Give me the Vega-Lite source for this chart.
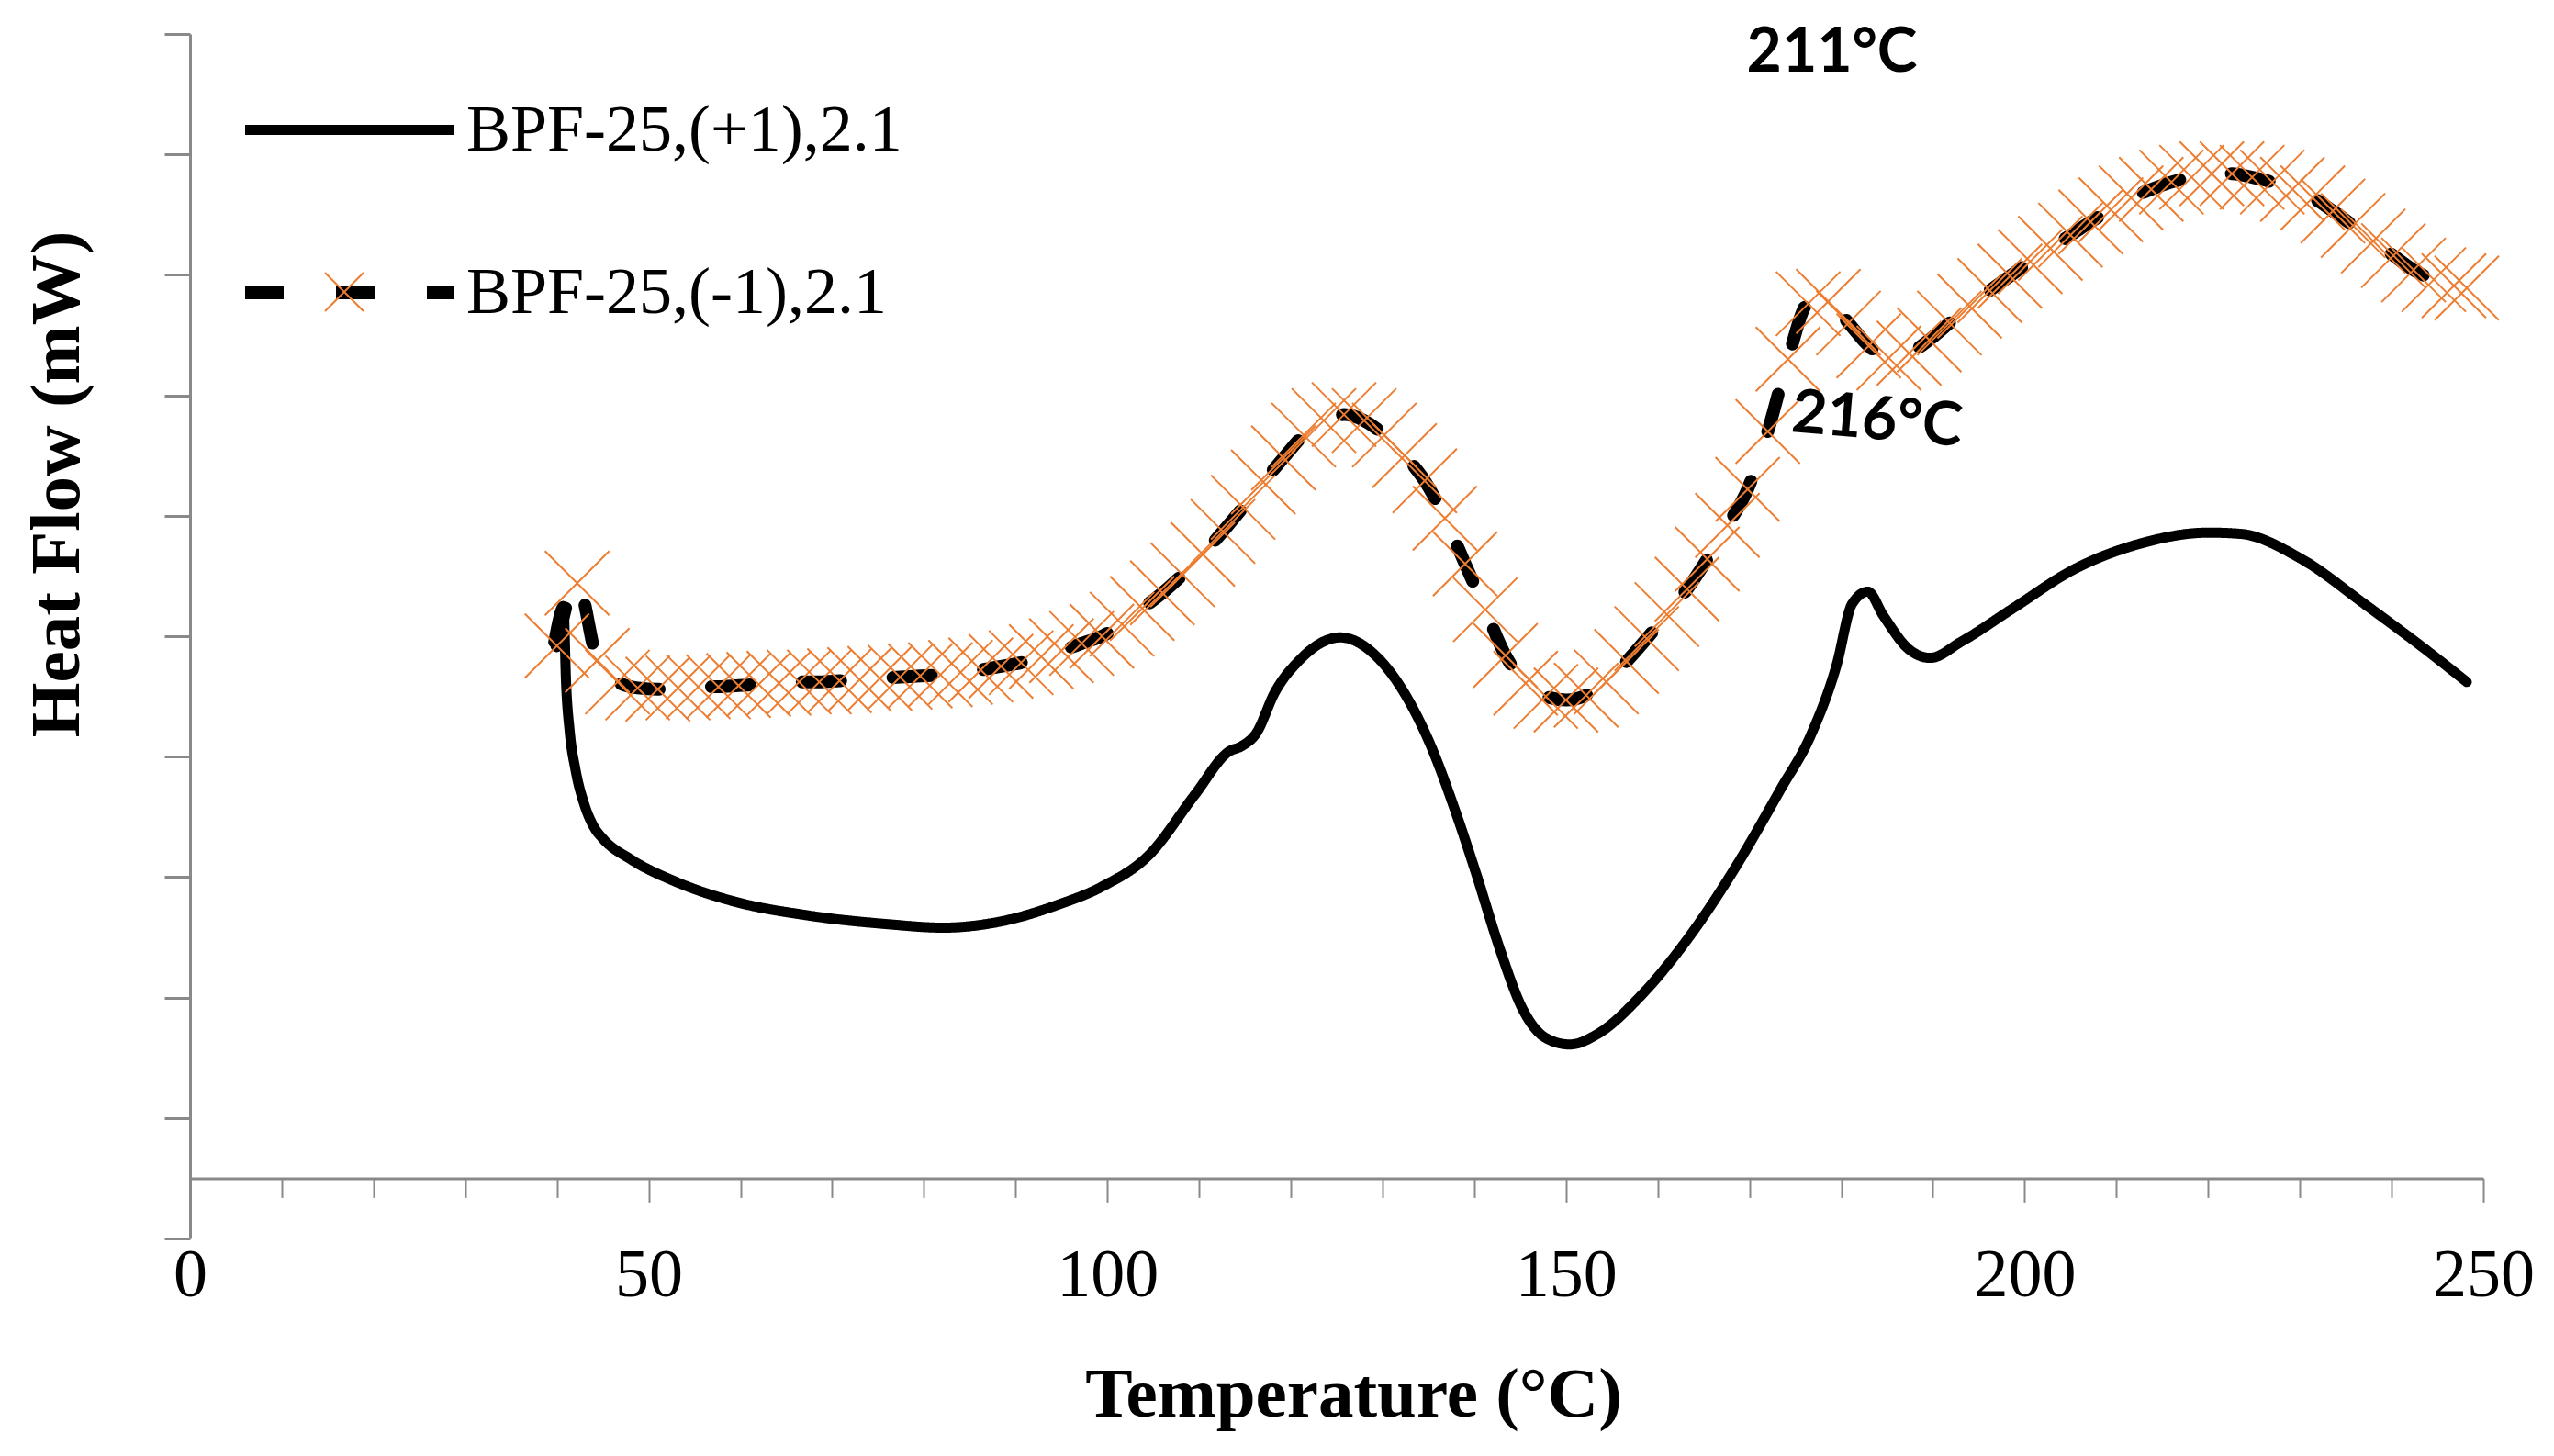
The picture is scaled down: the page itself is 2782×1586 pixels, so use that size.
{
  "$schema": "https://vega.github.io/schema/vega-lite/v6.json",
  "width": 2498,
  "height": 1312,
  "autosize": "none",
  "padding": {"left": 207, "top": 37, "right": 77, "bottom": 237},
  "background": "white",
  "config": {"view": {"stroke": null}},
  "datasets": {
    "curves": [
      {"series": "BPF-25,(+1),2.1", "temp": 39.6, "flow": 4.95},
      {"series": "BPF-25,(+1),2.1", "temp": 40.7, "flow": 5.25},
      {"series": "BPF-25,(+1),2.1", "temp": 41.0, "flow": 4.60},
      {"series": "BPF-25,(+1),2.1", "temp": 41.4, "flow": 4.20},
      {"series": "BPF-25,(+1),2.1", "temp": 42.0, "flow": 3.90},
      {"series": "BPF-25,(+1),2.1", "temp": 43.0, "flow": 3.60},
      {"series": "BPF-25,(+1),2.1", "temp": 44.0, "flow": 3.42},
      {"series": "BPF-25,(+1),2.1", "temp": 45.0, "flow": 3.32},
      {"series": "BPF-25,(+1),2.1", "temp": 48.0, "flow": 3.15},
      {"series": "BPF-25,(+1),2.1", "temp": 53.0, "flow": 2.96},
      {"series": "BPF-25,(+1),2.1", "temp": 59.2, "flow": 2.80},
      {"series": "BPF-25,(+1),2.1", "temp": 67.5, "flow": 2.68},
      {"series": "BPF-25,(+1),2.1", "temp": 75.9, "flow": 2.61},
      {"series": "BPF-25,(+1),2.1", "temp": 82.1, "flow": 2.58},
      {"series": "BPF-25,(+1),2.1", "temp": 88.3, "flow": 2.63},
      {"series": "BPF-25,(+1),2.1", "temp": 94.6, "flow": 2.77},
      {"series": "BPF-25,(+1),2.1", "temp": 99.4, "flow": 2.92},
      {"series": "BPF-25,(+1),2.1", "temp": 104.5, "flow": 3.18},
      {"series": "BPF-25,(+1),2.1", "temp": 109.6, "flow": 3.69},
      {"series": "BPF-25,(+1),2.1", "temp": 113.2, "flow": 4.04},
      {"series": "BPF-25,(+1),2.1", "temp": 114.7, "flow": 4.09},
      {"series": "BPF-25,(+1),2.1", "temp": 116.2, "flow": 4.19},
      {"series": "BPF-25,(+1),2.1", "temp": 118.3, "flow": 4.54},
      {"series": "BPF-25,(+1),2.1", "temp": 120.8, "flow": 4.79},
      {"series": "BPF-25,(+1),2.1", "temp": 125.4, "flow": 4.99},
      {"series": "BPF-25,(+1),2.1", "temp": 129.5, "flow": 4.82},
      {"series": "BPF-25,(+1),2.1", "temp": 132.6, "flow": 4.50},
      {"series": "BPF-25,(+1),2.1", "temp": 135.1, "flow": 4.12},
      {"series": "BPF-25,(+1),2.1", "temp": 138.2, "flow": 3.49},
      {"series": "BPF-25,(+1),2.1", "temp": 140.2, "flow": 3.03},
      {"series": "BPF-25,(+1),2.1", "temp": 142.8, "flow": 2.40},
      {"series": "BPF-25,(+1),2.1", "temp": 145.3, "flow": 1.90},
      {"series": "BPF-25,(+1),2.1", "temp": 147.9, "flow": 1.66},
      {"series": "BPF-25,(+1),2.1", "temp": 150.4, "flow": 1.61},
      {"series": "BPF-25,(+1),2.1", "temp": 153.5, "flow": 1.70},
      {"series": "BPF-25,(+1),2.1", "temp": 158.1, "flow": 2.01},
      {"series": "BPF-25,(+1),2.1", "temp": 163.2, "flow": 2.48},
      {"series": "BPF-25,(+1),2.1", "temp": 168.3, "flow": 3.06},
      {"series": "BPF-25,(+1),2.1", "temp": 173.4, "flow": 3.73},
      {"series": "BPF-25,(+1),2.1", "temp": 176.7, "flow": 4.18},
      {"series": "BPF-25,(+1),2.1", "temp": 179.5, "flow": 4.76},
      {"series": "BPF-25,(+1),2.1", "temp": 181.2, "flow": 5.27},
      {"series": "BPF-25,(+1),2.1", "temp": 182.9, "flow": 5.37},
      {"series": "BPF-25,(+1),2.1", "temp": 184.6, "flow": 5.17},
      {"series": "BPF-25,(+1),2.1", "temp": 187.4, "flow": 4.89},
      {"series": "BPF-25,(+1),2.1", "temp": 189.7, "flow": 4.82},
      {"series": "BPF-25,(+1),2.1", "temp": 193.0, "flow": 4.95},
      {"series": "BPF-25,(+1),2.1", "temp": 198.7, "flow": 5.23},
      {"series": "BPF-25,(+1),2.1", "temp": 205.5, "flow": 5.56},
      {"series": "BPF-25,(+1),2.1", "temp": 212.2, "flow": 5.76},
      {"series": "BPF-25,(+1),2.1", "temp": 220.1, "flow": 5.86},
      {"series": "BPF-25,(+1),2.1", "temp": 223.5, "flow": 5.85},
      {"series": "BPF-25,(+1),2.1", "temp": 230.2, "flow": 5.64},
      {"series": "BPF-25,(+1),2.1", "temp": 237.0, "flow": 5.27},
      {"series": "BPF-25,(+1),2.1", "temp": 243.7, "flow": 4.89},
      {"series": "BPF-25,(+1),2.1", "temp": 248.2, "flow": 4.62},
      {"series": "BPF-25,(-1),2.1", "temp": 40.0, "flow": 4.92},
      {"series": "BPF-25,(-1),2.1", "temp": 42.2, "flow": 5.44},
      {"series": "BPF-25,(-1),2.1", "temp": 44.4, "flow": 4.80},
      {"series": "BPF-25,(-1),2.1", "temp": 46.6, "flow": 4.62},
      {"series": "BPF-25,(-1),2.1", "temp": 48.8, "flow": 4.57},
      {"series": "BPF-25,(-1),2.1", "temp": 51.0, "flow": 4.56},
      {"series": "BPF-25,(-1),2.1", "temp": 53.2, "flow": 4.57},
      {"series": "BPF-25,(-1),2.1", "temp": 55.4, "flow": 4.58},
      {"series": "BPF-25,(-1),2.1", "temp": 57.6, "flow": 4.58},
      {"series": "BPF-25,(-1),2.1", "temp": 59.8, "flow": 4.59},
      {"series": "BPF-25,(-1),2.1", "temp": 62.0, "flow": 4.60},
      {"series": "BPF-25,(-1),2.1", "temp": 64.2, "flow": 4.61},
      {"series": "BPF-25,(-1),2.1", "temp": 66.4, "flow": 4.62},
      {"series": "BPF-25,(-1),2.1", "temp": 68.6, "flow": 4.62},
      {"series": "BPF-25,(-1),2.1", "temp": 70.8, "flow": 4.63},
      {"series": "BPF-25,(-1),2.1", "temp": 73.0, "flow": 4.64},
      {"series": "BPF-25,(-1),2.1", "temp": 75.2, "flow": 4.65},
      {"series": "BPF-25,(-1),2.1", "temp": 77.4, "flow": 4.66},
      {"series": "BPF-25,(-1),2.1", "temp": 79.6, "flow": 4.67},
      {"series": "BPF-25,(-1),2.1", "temp": 81.8, "flow": 4.68},
      {"series": "BPF-25,(-1),2.1", "temp": 84.0, "flow": 4.70},
      {"series": "BPF-25,(-1),2.1", "temp": 86.2, "flow": 4.72},
      {"series": "BPF-25,(-1),2.1", "temp": 88.4, "flow": 4.75},
      {"series": "BPF-25,(-1),2.1", "temp": 90.6, "flow": 4.78},
      {"series": "BPF-25,(-1),2.1", "temp": 92.8, "flow": 4.83},
      {"series": "BPF-25,(-1),2.1", "temp": 95.0, "flow": 4.88},
      {"series": "BPF-25,(-1),2.1", "temp": 97.2, "flow": 4.94},
      {"series": "BPF-25,(-1),2.1", "temp": 99.4, "flow": 5.00},
      {"series": "BPF-25,(-1),2.1", "temp": 101.6, "flow": 5.10},
      {"series": "BPF-25,(-1),2.1", "temp": 103.8, "flow": 5.23},
      {"series": "BPF-25,(-1),2.1", "temp": 106.0, "flow": 5.36},
      {"series": "BPF-25,(-1),2.1", "temp": 108.2, "flow": 5.51},
      {"series": "BPF-25,(-1),2.1", "temp": 110.4, "flow": 5.68},
      {"series": "BPF-25,(-1),2.1", "temp": 112.6, "flow": 5.87},
      {"series": "BPF-25,(-1),2.1", "temp": 114.8, "flow": 6.07},
      {"series": "BPF-25,(-1),2.1", "temp": 117.0, "flow": 6.28},
      {"series": "BPF-25,(-1),2.1", "temp": 119.2, "flow": 6.48},
      {"series": "BPF-25,(-1),2.1", "temp": 121.4, "flow": 6.67},
      {"series": "BPF-25,(-1),2.1", "temp": 123.6, "flow": 6.79},
      {"series": "BPF-25,(-1),2.1", "temp": 125.8, "flow": 6.84},
      {"series": "BPF-25,(-1),2.1", "temp": 128.0, "flow": 6.79},
      {"series": "BPF-25,(-1),2.1", "temp": 130.2, "flow": 6.67},
      {"series": "BPF-25,(-1),2.1", "temp": 132.4, "flow": 6.50},
      {"series": "BPF-25,(-1),2.1", "temp": 134.6, "flow": 6.29},
      {"series": "BPF-25,(-1),2.1", "temp": 136.8, "flow": 5.98},
      {"series": "BPF-25,(-1),2.1", "temp": 139.0, "flow": 5.60},
      {"series": "BPF-25,(-1),2.1", "temp": 141.2, "flow": 5.22},
      {"series": "BPF-25,(-1),2.1", "temp": 143.4, "flow": 4.84},
      {"series": "BPF-25,(-1),2.1", "temp": 145.6, "flow": 4.61},
      {"series": "BPF-25,(-1),2.1", "temp": 147.8, "flow": 4.50},
      {"series": "BPF-25,(-1),2.1", "temp": 150.0, "flow": 4.47},
      {"series": "BPF-25,(-1),2.1", "temp": 152.2, "flow": 4.51},
      {"series": "BPF-25,(-1),2.1", "temp": 154.4, "flow": 4.62},
      {"series": "BPF-25,(-1),2.1", "temp": 156.6, "flow": 4.79},
      {"series": "BPF-25,(-1),2.1", "temp": 158.8, "flow": 4.98},
      {"series": "BPF-25,(-1),2.1", "temp": 161.0, "flow": 5.18},
      {"series": "BPF-25,(-1),2.1", "temp": 163.2, "flow": 5.39},
      {"series": "BPF-25,(-1),2.1", "temp": 165.4, "flow": 5.64},
      {"series": "BPF-25,(-1),2.1", "temp": 167.6, "flow": 5.92},
      {"series": "BPF-25,(-1),2.1", "temp": 169.8, "flow": 6.22},
      {"series": "BPF-25,(-1),2.1", "temp": 172.0, "flow": 6.70},
      {"series": "BPF-25,(-1),2.1", "temp": 174.2, "flow": 7.30},
      {"series": "BPF-25,(-1),2.1", "temp": 176.4, "flow": 7.76},
      {"series": "BPF-25,(-1),2.1", "temp": 178.6, "flow": 7.78},
      {"series": "BPF-25,(-1),2.1", "temp": 180.8, "flow": 7.60},
      {"series": "BPF-25,(-1),2.1", "temp": 183.0, "flow": 7.41},
      {"series": "BPF-25,(-1),2.1", "temp": 185.2, "flow": 7.31},
      {"series": "BPF-25,(-1),2.1", "temp": 187.4, "flow": 7.35},
      {"series": "BPF-25,(-1),2.1", "temp": 189.6, "flow": 7.46},
      {"series": "BPF-25,(-1),2.1", "temp": 191.8, "flow": 7.60},
      {"series": "BPF-25,(-1),2.1", "temp": 194.0, "flow": 7.74},
      {"series": "BPF-25,(-1),2.1", "temp": 196.2, "flow": 7.87},
      {"series": "BPF-25,(-1),2.1", "temp": 198.4, "flow": 7.99},
      {"series": "BPF-25,(-1),2.1", "temp": 200.6, "flow": 8.11},
      {"series": "BPF-25,(-1),2.1", "temp": 202.8, "flow": 8.22},
      {"series": "BPF-25,(-1),2.1", "temp": 205.0, "flow": 8.33},
      {"series": "BPF-25,(-1),2.1", "temp": 207.2, "flow": 8.44},
      {"series": "BPF-25,(-1),2.1", "temp": 209.4, "flow": 8.54},
      {"series": "BPF-25,(-1),2.1", "temp": 211.6, "flow": 8.64},
      {"series": "BPF-25,(-1),2.1", "temp": 213.8, "flow": 8.71},
      {"series": "BPF-25,(-1),2.1", "temp": 216.0, "flow": 8.77},
      {"series": "BPF-25,(-1),2.1", "temp": 218.2, "flow": 8.81},
      {"series": "BPF-25,(-1),2.1", "temp": 220.4, "flow": 8.84},
      {"series": "BPF-25,(-1),2.1", "temp": 222.6, "flow": 8.84},
      {"series": "BPF-25,(-1),2.1", "temp": 224.8, "flow": 8.81},
      {"series": "BPF-25,(-1),2.1", "temp": 227.0, "flow": 8.77},
      {"series": "BPF-25,(-1),2.1", "temp": 229.2, "flow": 8.71},
      {"series": "BPF-25,(-1),2.1", "temp": 231.4, "flow": 8.64},
      {"series": "BPF-25,(-1),2.1", "temp": 233.6, "flow": 8.53},
      {"series": "BPF-25,(-1),2.1", "temp": 235.8, "flow": 8.41},
      {"series": "BPF-25,(-1),2.1", "temp": 238.0, "flow": 8.28},
      {"series": "BPF-25,(-1),2.1", "temp": 240.2, "flow": 8.16},
      {"series": "BPF-25,(-1),2.1", "temp": 242.4, "flow": 8.04},
      {"series": "BPF-25,(-1),2.1", "temp": 244.6, "flow": 7.96},
      {"series": "BPF-25,(-1),2.1", "temp": 246.8, "flow": 7.91},
      {"series": "BPF-25,(-1),2.1", "temp": 248.2, "flow": 7.89}
    ],
    "notes": [
      {"label": "211°C", "temp": 179.0, "flow": 9.84},
      {"label": "216°C", "temp": 183.9, "flow": 6.79}
    ]
  },
  "layer": [
    {
      "data": {"name": "curves"},
      "mark": {"type": "line", "color": "black", "strokeCap": "round", "strokeJoin": "round", "interpolate": "monotone"},
      "encoding": {
        "x": {
          "field": "temp", "type": "quantitative",
          "scale": {"domain": [0, 250], "nice": false, "zero": false},
          "axis": {
            "orient": "bottom",
            "values": [0, 50, 100, 150, 200, 250],
            "offset": -65.6,
            "tickSize": 26, "tickWidth": 2, "tickColor": "#898989",
            "domainColor": "#898989", "domainWidth": 3,
            "labelFont": "Liberation Serif", "labelFontSize": 74, "labelColor": "black",
            "labelPadding": 44, "labelFlush": false, "labelOverlap": false,
            "title": "Temperature (°C)",
            "titleFont": "Liberation Serif", "titleFontSize": 77, "titleFontWeight": "bold", "titleColor": "black",
            "titleX": 1267, "titleY": 259, "titleBaseline": "alphabetic", "titleAlign": "center",
            "grid": false
          }
        },
        "y": {
          "field": "flow", "type": "quantitative",
          "scale": {"domain": [0, 10], "nice": false, "zero": false},
          "axis": {
            "orient": "left",
            "values": [0, 1, 2, 3, 4, 5, 6, 7, 8, 9, 10],
            "tickSize": 28, "tickWidth": 3, "tickColor": "#898989",
            "domainColor": "#898989", "domainWidth": 3,
            "labels": false,
            "title": "Heat Flow (mW)",
            "titleFont": "Liberation Serif", "titleFontSize": 77, "titleFontWeight": "bold", "titleColor": "black",
            "titleX": -145, "titleY": 490, "titleAngle": -90, "titleAlign": "center", "titleBaseline": "middle",
            "grid": false
          }
        },
        "strokeDash": {
          "field": "series", "type": "nominal",
          "scale": {"domain": ["BPF-25,(+1),2.1", "BPF-25,(-1),2.1"], "range": [[1, 0], [42, 57]]},
          "legend": {
            "orient": "none", "legendX": 53, "legendY": -14.5,
            "title": null, "padding": 0,
            "symbolType": "stroke", "symbolSize": 51529, "symbolStrokeWidth": 12, "symbolStrokeColor": "black",
            "labelFont": "Liberation Serif", "labelFontSize": 72, "labelColor": "black",
            "labelOffset": 7, "labelLimit": 0, "labelBaseline": "middle",
            "rowPadding": 21
          }
        },
        "strokeWidth": {
          "field": "series", "type": "nominal",
          "scale": {"domain": ["BPF-25,(+1),2.1", "BPF-25,(-1),2.1"], "range": [11, 14]},
          "legend": null
        }
      }
    },
    {
      "data": {"name": "curves"},
      "transform": [{"filter": "datum.series === 'BPF-25,(-1),2.1'"}],
      "mark": {"type": "point", "filled": false, "stroke": "#ED7D31", "strokeWidth": 2, "size": 4900, "opacity": 1},
      "encoding": {
        "x": {
          "field": "temp", "type": "quantitative",
          "axis": {
            "orient": "bottom",
            "values": [10, 20, 30, 40, 60, 70, 80, 90, 110, 120, 130, 140, 160, 170, 180, 190, 210, 220, 230, 240],
            "offset": -65.6,
            "tickSize": 21, "tickWidth": 2, "tickColor": "#898989",
            "domain": false, "labels": false, "title": null, "grid": false
          }
        },
        "y": {"field": "flow", "type": "quantitative", "axis": null},
        "shape": {
          "field": "series", "type": "nominal",
          "scale": {"domain": ["BPF-25,(-1),2.1"], "range": ["M-1,-1L1,1M-1,1L1,-1"]},
          "legend": {
            "orient": "none", "legendX": 146, "legendY": 259,
            "title": null, "padding": 0,
            "symbolSize": 1764, "symbolStrokeColor": "#ED7D31", "symbolStrokeWidth": 2, "symbolFillColor": "transparent",
            "labelExpr": "''"
          }
        }
      }
    },
    {
      "data": {"name": "notes"},
      "transform": [{"filter": "datum.label === '211°C'"}],
      "mark": {"type": "text", "font": "Lato", "fontWeight": "bold", "fontSize": 66, "align": "center", "baseline": "middle", "color": "black"},
      "encoding": {
        "x": {"field": "temp", "type": "quantitative", "axis": null},
        "y": {"field": "flow", "type": "quantitative", "axis": null},
        "text": {"field": "label"}
      }
    },
    {
      "data": {"name": "notes"},
      "transform": [{"filter": "datum.label === '216°C'"}],
      "mark": {"type": "text", "font": "Lato", "fontWeight": "bold", "fontSize": 66, "align": "center", "baseline": "middle", "angle": 5, "color": "black"},
      "encoding": {
        "x": {"field": "temp", "type": "quantitative", "axis": null},
        "y": {"field": "flow", "type": "quantitative", "axis": null},
        "text": {"field": "label"}
      }
    }
  ],
  "resolve": {"axis": {"x": "independent", "y": "independent"}}
}
